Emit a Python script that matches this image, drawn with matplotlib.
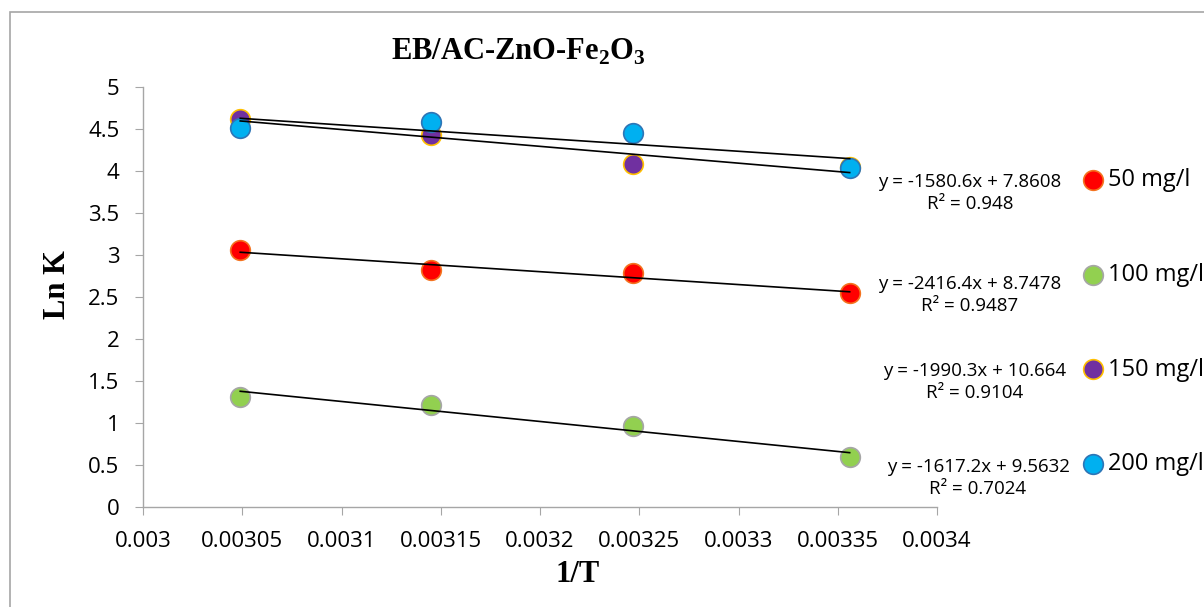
import matplotlib
matplotlib.use('Agg')
import matplotlib.pyplot as plt
from matplotlib.patches import Rectangle
import numpy as np

plt.rcParams['mathtext.fontset'] = 'custom'
plt.rcParams['mathtext.rm'] = 'Liberation Serif'
plt.rcParams['mathtext.bf'] = 'Liberation Serif:bold'

# 1/T values (K^-1)
inv_t = [0.003049, 0.003145, 0.003247, 0.003356]

# Ln K per initial concentration
lnk_50 = [3.06, 2.82, 2.78, 2.55]
lnk_100 = [1.31, 1.22, 0.96, 0.59]
lnk_150 = [4.62, 4.43, 4.08, 4.05]
lnk_200 = [4.51, 4.58, 4.45, 4.03]

labels = ["50 mg/l", "100 mg/l", "150 mg/l", "200 mg/l"]
equations = [
    "y = -1580.6x + 7.8608\nR² = 0.948",
    "y = -2416.4x + 8.7478\nR² = 0.9487",
    "y = -1990.3x + 10.664\nR² = 0.9104",
    "y = -1617.2x + 9.5632\nR² = 0.7024",
]
x_ticks = [0.003, 0.00305, 0.0031, 0.00315, 0.0032, 0.00325, 0.0033, 0.00335, 0.0034]
x_tick_labels = ["0.003", "0.00305", "0.0031", "0.00315", "0.0032",
                 "0.00325", "0.0033", "0.00335", "0.0034"]
y_ticks = [0, 0.5, 1, 1.5, 2, 2.5, 3, 3.5, 4, 4.5, 5]
y_tick_labels = ["0", "0.5", "1", "1.5", "2", "2.5", "3", "3.5", "4", "4.5", "5"]

face_colors = ["#FF0000", "#92D050", "#7030A0", "#00B0F0"]
edge_colors = ["#F4731F", "#A6A6A6", "#FFC000", "#2E75B6"]

W, H = 1204, 607
fig = plt.figure(figsize=(W / 100, H / 100), dpi=100)
ax = fig.add_axes([143 / W, 1 - 507 / H, (937 - 143) / W, (507 - 87) / H])

# outer chart border
fig.patches.append(Rectangle((10 / W, -0.01), 1.0, 1 - 12 / H + 0.01,
                             transform=fig.transFigure, fill=False,
                             edgecolor="#A6A6A6", linewidth=1.2))

series = [lnk_50, lnk_100, lnk_150, lnk_200]
x = np.array(inv_t)
for i, y in enumerate(series):
    ax.scatter(x, y, s=200, color=face_colors[i], edgecolors=edge_colors[i],
               linewidths=1.2, zorder=3, label=labels[i], clip_on=False)
for y in series:
    m, b = np.polyfit(x, y, 1)
    ax.plot(x, m * x + b, color="black", linewidth=1.2, zorder=4)

ax.set_xlim(0.003, 0.0034)
ax.set_ylim(0, 5)
ax.set_xticks(x_ticks)
ax.set_xticklabels(x_tick_labels)
ax.set_yticks(y_ticks)
ax.set_yticklabels(y_tick_labels)

for s in ["top", "right"]:
    ax.spines[s].set_visible(False)
for s in ["left", "bottom"]:
    ax.spines[s].set_color("#A6A6A6")
    ax.spines[s].set_linewidth(1.0)
ax.tick_params(axis="both", direction="out", length=6, color="#A6A6A6",
               labelsize=16, pad=11)
for lbl in ax.get_xticklabels() + ax.get_yticklabels():
    lbl.set_fontfamily("Open Sans")

ax.set_xlabel("1/T", fontsize=22, fontweight="bold", family="Liberation Serif")
ax.set_ylabel("Ln K", fontsize=22, fontweight="bold", family="Liberation Serif")
ax.xaxis.set_label_coords(0.548, -0.126)
ax.yaxis.set_label_coords(-0.089, 0.53)

fig.text(518 / W, 1 - 52 / H, r"EB/AC-ZnO-Fe$_\mathbf{2}$O$_\mathbf{3}$",
         ha="center", va="center", fontsize=22, fontweight="bold",
         family="Liberation Serif")

eq_pos = [(970, 193), (970, 295), (975, 382), (978, 478)]
for (px, py), txt in zip(eq_pos, equations):
    fig.text(px / W, 1 - py / H, txt, ha="center", va="center", fontsize=13.5,
             family="Open Sans", linespacing=1.35)

fs = 17
fig.legend(loc="upper left", bbox_to_anchor=(1081 / W, 1 - 168 / H),
           frameon=False, labelspacing=3.0, handlelength=1.0,
           handletextpad=0.15, borderpad=0, borderaxespad=0,
           markerscale=1.0, prop={"family": "Open Sans", "size": fs})

fig.savefig("out.png", dpi=100)
